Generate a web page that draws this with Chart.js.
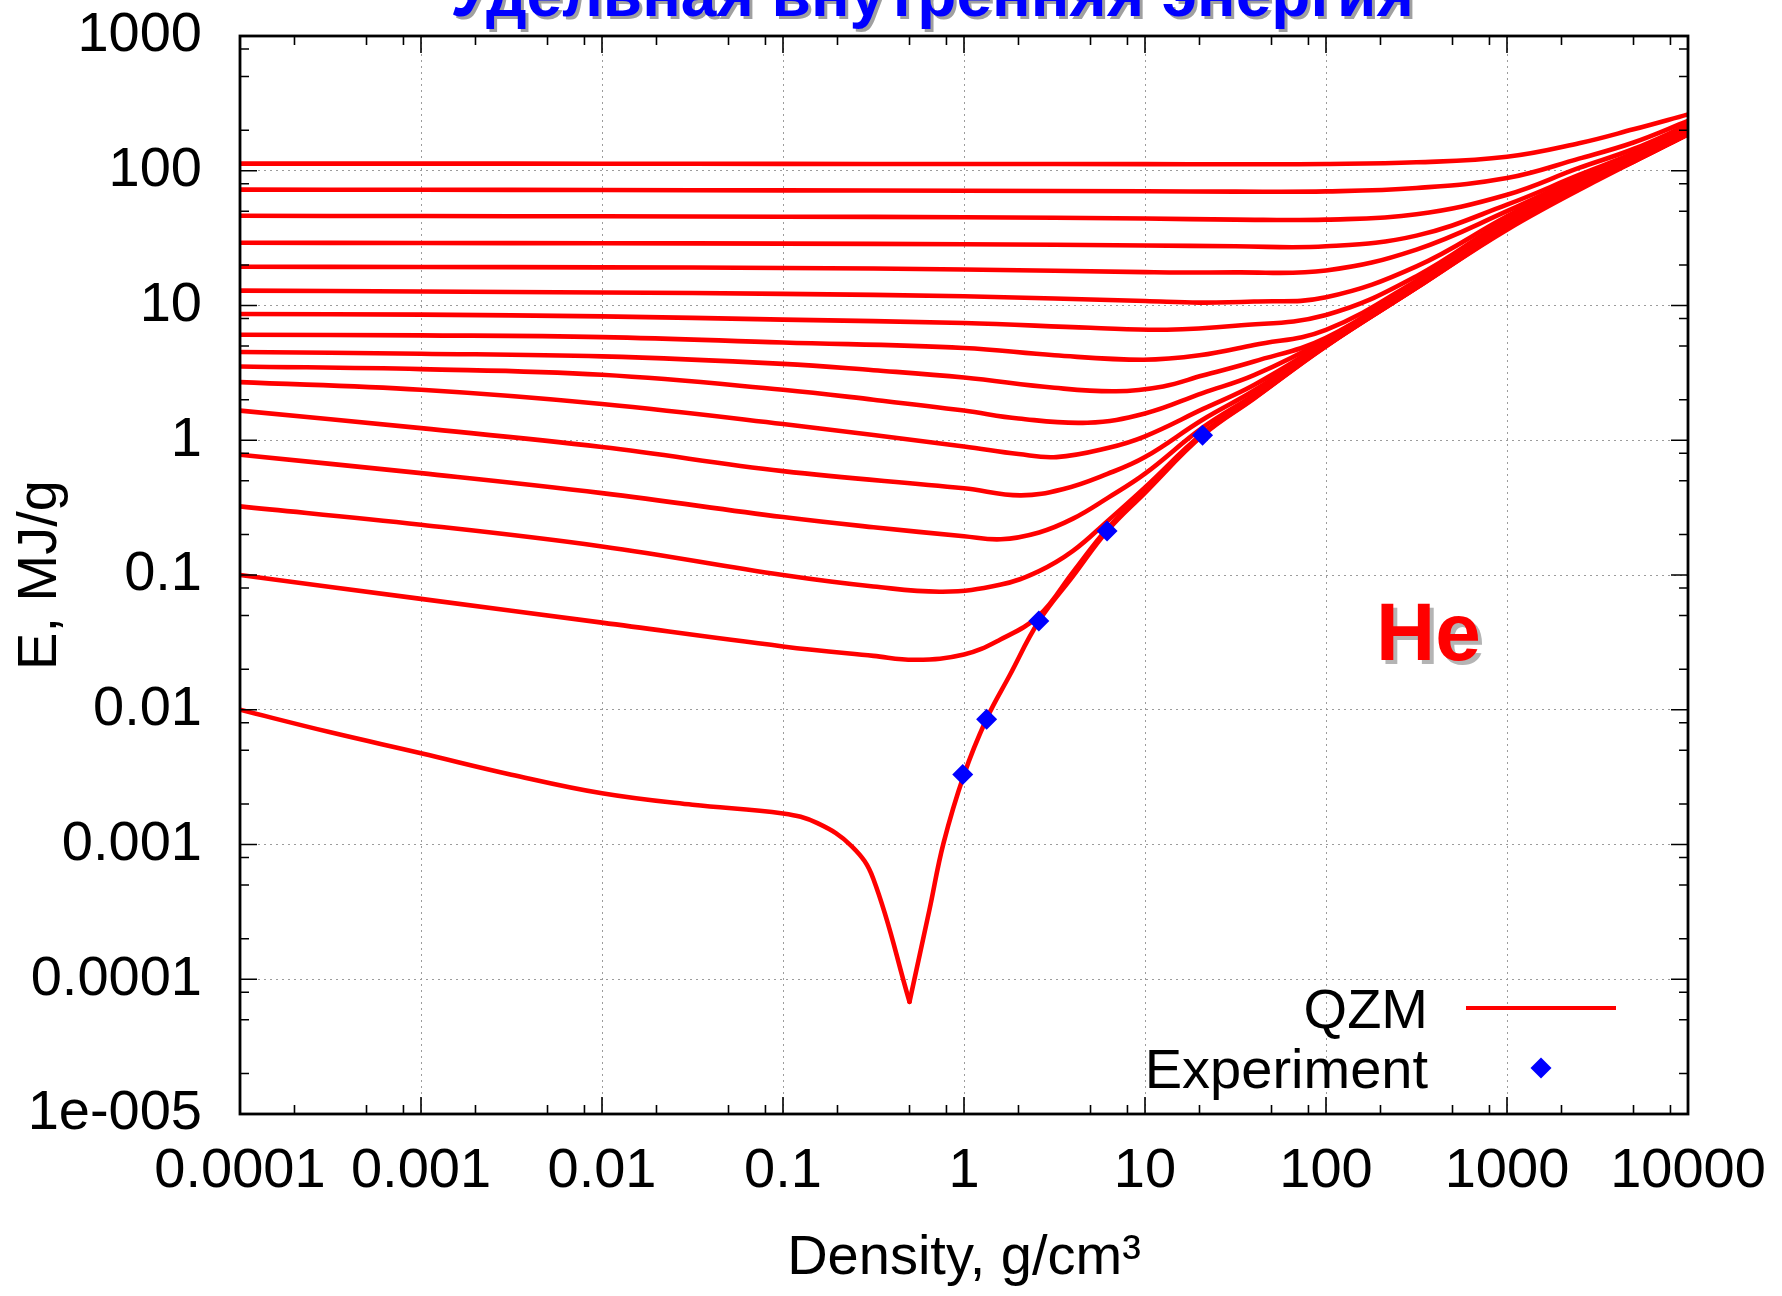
<!DOCTYPE html>
<html><head><meta charset="utf-8">
<script src="https://cdn.jsdelivr.net/npm/chart.js@4.4.1/dist/chart.umd.min.js"></script>
<style>
html,body{margin:0;padding:0;background:#fff;overflow:hidden}
#wrap{position:relative;width:1782px;height:1296px;overflow:hidden}
canvas{position:absolute;left:0;top:0}
.lbl{position:absolute;font-family:"Liberation Sans",Arial,sans-serif;line-height:1;white-space:nowrap}
#title{color:#0000ff;font-weight:bold;font-size:64px;left:932px;top:-38px;transform:translateX(-50%);text-shadow:3px 3px 0 #a0a0a0}
#he{color:#ff0000;font-weight:bold;font-size:82px;left:1376px;top:591px;text-shadow:4px 4px 0 #b4b4b4}
.leg{font-size:56px;color:#000;text-align:right;right:354px}
#legQ{top:981px}
#legE{top:1041px}
</style></head>
<body>
<div id="wrap">
<canvas id="c" width="1782" height="1296"></canvas>
<div id="title" class="lbl">Удельная внутренняя энергия</div>
<div id="he" class="lbl">He</div>
<div id="legQ" class="lbl leg">QZM</div>
<div id="legE" class="lbl leg">Experiment</div>
</div>
<script>
// ---- tick values and labels ----
const xTickValues = [1e-4, 1e-3, 1e-2, 0.1, 1, 10, 100, 1000, 10000];
const xTickLabels = ['0.0001', '0.001', '0.01', '0.1', '1', '10', '100', '1000', '10000'];
const yTickValues = [1e-5, 1e-4, 1e-3, 0.01, 0.1, 1, 10, 100, 1000];
const yTickLabels = ['1e-005', '0.0001', '0.001', '0.01', '0.1', '1', '10', '100', '1000'];
const minorMultipliers = [2, 5, 8];

// ---- experiment ----
const expDensity = [0.984, 1.334, 2.59, 6.17, 20.8];
const expEnergy  = [0.00331, 0.0085, 0.0455, 0.212, 1.087];

// ---- QZM isotherms (density g/cm3, energy MJ/g), top to bottom ----
const isoDensity = [
  [0.0001, 0.001, 0.01, 0.1, 1, 10, 31.6, 100, 316, 1000, 2500, 5000, 10000],
  [0.0001, 0.001, 0.01, 0.1, 1, 10, 31.6, 100, 316, 1000, 2500, 5000, 10000],
  [0.0001, 0.001, 0.01, 0.1, 1, 10, 31.6, 100, 316, 1000, 2500, 5000, 10000],
  [0.0001, 0.001, 0.01, 0.1, 1, 10, 31.6, 100, 316, 1000, 2500, 5000, 10000],
  [0.0001, 0.001, 0.01, 0.1, 1, 10, 31.6, 100, 316, 1000, 2500, 5000, 10000],
  [0.0001, 0.001, 0.01, 0.1, 1, 10, 20, 40, 100, 316, 1000, 2500, 5000, 10000],
  [0.0001, 0.001, 0.01, 0.1, 1, 5, 13.2, 31.6, 100, 316, 1000, 2500, 5000, 10000],
  [0.0001, 0.001, 0.01, 0.1, 1, 3.16, 9.8, 20, 40, 100, 316, 1000, 2500, 5000, 10000],
  [0.0001, 0.001, 0.01, 0.1, 0.316, 1, 3.16, 6.9, 12.6, 20.8, 40, 100, 316, 1000, 2500, 5000, 10000],
  [0.0001, 0.001, 0.01, 0.1, 0.316, 1, 2, 4.8, 10, 20.8, 40, 100, 316, 1000, 2500, 5000, 10000],
  [0.0001, 0.001, 0.01, 0.1, 1, 2, 3.24, 6.3, 10, 20.8, 40, 100, 316, 1000, 2500, 5000, 10000],
  [0.0001, 0.001, 0.01, 0.1, 1, 2.04, 3.55, 6.2, 10, 20.8, 40, 100, 316, 1000, 2500, 5000, 10000],
  [0.0001, 0.001, 0.01, 0.1, 0.316, 1, 1.6, 2.6, 4, 6.2, 10, 20.8, 40, 100, 316, 1000, 2500, 5000, 10000],
  [0.0001, 0.001, 0.01, 0.1, 0.316, 0.76, 1.58, 2.6, 4, 6.2, 10, 20.8, 40, 100, 316, 1000, 2500, 5000, 10000],
  [0.0001, 0.001, 0.01, 0.1, 0.316, 0.54, 1, 1.58, 2.6, 4, 6.2, 10, 20.8, 40, 100, 316, 1000, 2500, 5000, 10000],
  // lowest isotherm, left branch down to the sharp minimum
  [0.0001, 0.000316, 0.001, 0.00316, 0.01, 0.0316, 0.1, 0.155, 0.24, 0.315, 0.5],
  // lowest isotherm, right branch from the minimum
  [0.5, 0.645, 0.77, 1, 1.33, 1.78, 2.6, 4, 6.2, 10, 20.8, 40, 100, 316, 1000, 3162, 10000]
];
const isoEnergy = [
  [113, 113, 112.7, 112.5, 112.2, 112, 111.7, 112.2, 115.5, 127, 160, 203, 262],
  [72.4, 72.2, 71.9, 71.5, 71.1, 70.5, 70.0, 70.3, 74.5, 88.3, 123, 162, 234],
  [46.3, 46.1, 45.9, 45.6, 45.2, 44.2, 43.4, 43.4, 47.5, 66.4, 105, 145, 219],
  [29.2, 29.1, 29.0, 28.8, 28.5, 27.9, 27.5, 27.5, 33, 56, 93, 135, 209],
  [19.4, 19.3, 19.2, 19.0, 18.5, 17.7, 17.6, 18.2, 26, 50.1, 89, 132, 204],
  [12.9, 12.7, 12.5, 12.2, 11.7, 10.8, 10.5, 10.7, 11.5, 19.5, 45.9, 87, 129, 200],
  [8.65, 8.55, 8.30, 7.85, 7.41, 6.84, 6.61, 7.08, 8.51, 16.5, 43.7, 85, 126, 195],
  [6.07, 6.0, 5.83, 5.32, 4.84, 4.27, 3.96, 4.27, 5.1, 6.6, 15.3, 41.7, 83, 123, 193],
  [4.52, 4.39, 4.19, 3.69, 3.31, 2.92, 2.45, 2.31, 2.51, 3.02, 3.84, 5.75, 14.8, 39.8, 81, 122, 190],
  [3.53, 3.37, 3.06, 2.37, 2.0, 1.66, 1.45, 1.35, 1.58, 2.24, 3.04, 5.6, 14.4, 38.9, 80, 120, 190],
  [2.70, 2.37, 1.86, 1.32, 0.90, 0.79, 0.75, 0.88, 1.07, 1.70, 2.57, 5.37, 14.1, 38.5, 79, 120, 190],
  [1.66, 1.23, 0.89, 0.59, 0.44, 0.39, 0.435, 0.563, 0.75, 1.42, 2.34, 5.25, 14.0, 38.2, 78, 119, 188],
  [0.78, 0.57, 0.405, 0.269, 0.226, 0.194, 0.184, 0.207, 0.262, 0.372, 0.565, 1.24, 2.17, 5.1, 13.8, 37.8, 77, 118, 188],
  [0.323, 0.236, 0.163, 0.1, 0.0822, 0.0752, 0.0845, 0.107, 0.151, 0.251, 0.447, 1.12, 2.07, 5.03, 13.6, 37.5, 77, 117, 187],
  [0.1, 0.0665, 0.0443, 0.0295, 0.0251, 0.0235, 0.0257, 0.0331, 0.0501, 0.105, 0.221, 0.417, 1.10, 2.05, 5.0, 13.5, 37.3, 76, 117, 187],
  [0.01, 0.0068, 0.00476, 0.0033, 0.0024, 0.00197, 0.0017, 0.00144, 0.00097, 0.00056, 0.000068],
  [0.000068, 0.00033, 0.00102, 0.0033, 0.0085, 0.0178, 0.0457, 0.098, 0.213, 0.407, 1.087, 2.04, 4.98, 13.5, 36.5, 85, 186]
];

const FONT = '"Liberation Sans", Arial, Helvetica, sans-serif';
const RED = '#ff0000';
const BLUE = '#0000ff';

const datasets = [{
  label: 'Experiment',
  data: expDensity.map((d, i) => ({x: d, y: expEnergy[i]})),
  showLine: false,
  pointStyle: 'rectRot',
  pointRadius: 10.5,
  pointBackgroundColor: BLUE,
  pointBorderColor: BLUE,
  pointBorderWidth: 0,
  order: 0
}];
isoDensity.forEach((rho, k) => {
  datasets.push({
    label: 'QZM',
    data: rho.map((d, i) => ({x: d, y: isoEnergy[k][i]})),
    borderColor: RED,
    borderWidth: 4.6,
    pointRadius: 0,
    fill: false,
    tension: 0.4,
    borderCapStyle: 'round',
    borderJoinStyle: 'round',
    order: 1
  });
});

const framePlugin = {
  id: 'frameTicks',
  afterDatasetsDraw(chart) {
    const {ctx, chartArea: a, scales: {x, y}} = chart;
    ctx.save();
    ctx.strokeStyle = '#000';
    ctx.lineWidth = 1.6;
    ctx.beginPath();
    const MAJ = 17, MIN = 9;
    xTickValues.forEach((v, i) => {
      const p = x.getPixelForValue(v);
      ctx.moveTo(p, a.bottom); ctx.lineTo(p, a.bottom - MAJ);
      ctx.moveTo(p, a.top); ctx.lineTo(p, a.top + MAJ);
      if (i < xTickValues.length - 1) minorMultipliers.forEach(m => {
        const q = x.getPixelForValue(v * m);
        ctx.moveTo(q, a.bottom); ctx.lineTo(q, a.bottom - MIN);
        ctx.moveTo(q, a.top); ctx.lineTo(q, a.top + MIN);
      });
    });
    yTickValues.forEach((v, i) => {
      const p = y.getPixelForValue(v);
      ctx.moveTo(a.left, p); ctx.lineTo(a.left + MAJ, p);
      ctx.moveTo(a.right, p); ctx.lineTo(a.right - MAJ, p);
      if (i < yTickValues.length - 1) minorMultipliers.forEach(m => {
        const q = y.getPixelForValue(v * m);
        ctx.moveTo(a.left, q); ctx.lineTo(a.left + MIN, q);
        ctx.moveTo(a.right, q); ctx.lineTo(a.right - MIN, q);
      });
    });
    ctx.stroke();
    ctx.lineWidth = 2.8;
    ctx.strokeRect(a.left, a.top, a.right - a.left, a.bottom - a.top);
    // legend samples
    ctx.strokeStyle = RED;
    ctx.lineWidth = 4.2;
    ctx.beginPath();
    ctx.moveTo(a.right - 222, a.bottom - 106);
    ctx.lineTo(a.right - 72, a.bottom - 106);
    ctx.stroke();
    ctx.fillStyle = BLUE;
    const cx = a.right - 147, cy = a.bottom - 46, r = 10.5;
    ctx.beginPath();
    ctx.moveTo(cx - r, cy); ctx.lineTo(cx, cy - r); ctx.lineTo(cx + r, cy); ctx.lineTo(cx, cy + r);
    ctx.closePath();
    ctx.fill();
    ctx.restore();
  }
};

const tickFont = {family: FONT, size: 56};
const HIDDEN = 'rgba(0,0,0,0)';
const GRID = '#9c9c9c';
new Chart(document.getElementById('c'), {
  type: 'line',
  data: {datasets},
  plugins: [framePlugin],
  options: {
    responsive: false,
    animation: false,
    devicePixelRatio: 1,
    events: [],
    layout: {padding: {top: 36, right: 94, left: 0, bottom: 0}},
    plugins: {legend: {display: false}, tooltip: {enabled: false}, title: {display: false}},
    scales: {
      x: {
        type: 'logarithmic', min: 1e-4, max: 1e4,
        afterBuildTicks: s => { s.ticks = xTickValues.map(v => ({value: v})); },
        afterFit: s => { s.height = 182; },
        ticks: {autoSkip: false, maxRotation: 0, minRotation: 0, padding: 0, color: '#000', font: tickFont,
          callback: (v, i) => xTickLabels[i]},
        grid: {drawTicks: true, tickLength: 24, tickColor: HIDDEN, color: GRID, lineWidth: 1},
        border: {display: false, dash: [2, 4]},
        title: {display: true, text: 'Density, g/cm³', color: '#000', font: tickFont, padding: {top: 0, bottom: 4}}
      },
      y: {
        type: 'logarithmic', min: 1e-5, max: 1000,
        afterBuildTicks: s => { s.ticks = yTickValues.map(v => ({value: v})); },
        afterFit: s => { s.width = 240; },
        ticks: {autoSkip: false, padding: 0, color: '#000', font: tickFont,
          callback: (v, i) => yTickLabels[i]},
        grid: {drawTicks: true, tickLength: 38, tickColor: HIDDEN, color: GRID, lineWidth: 1},
        border: {display: false, dash: [2, 4]},
        title: {display: true, text: 'E, MJ/g', color: '#000', font: tickFont, padding: {top: 7, bottom: 0}}
      }
    }
  }
});
</script>
</body></html>
